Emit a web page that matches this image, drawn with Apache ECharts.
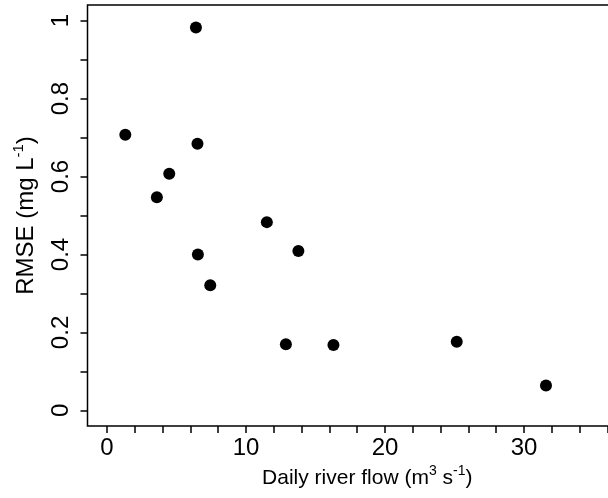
<!DOCTYPE html>
<html>
<head>
<meta charset="utf-8">
<script src="https://cdn.jsdelivr.net/npm/echarts@6/dist/echarts.min.js"></script>
<style>
  html, body { margin: 0; padding: 0; background: #fff; }
  #chart { width: 608px; height: 498px; }
</style>
</head>
<body>
<div id="chart"></div>
<script>
  // values
  var flow = [1.32, 3.59, 4.48, 6.40, 6.51, 6.54, 7.43, 11.50, 12.87, 13.77, 16.29, 25.16, 31.58];
  var rmse = [0.707, 0.547, 0.607, 0.982, 0.684, 0.400, 0.321, 0.483, 0.170, 0.409, 0.168, 0.176, 0.064];

  var xLabels = [0, 10, 20, 30];
  var xTicks = [0, 2, 4, 6, 8, 10, 12, 14, 16, 18, 20, 22, 24, 26, 28, 30, 32, 34, 36];
  var yLabels = [0, 0.2, 0.4, 0.6, 0.8, 1];
  var yTicks = [0, 0.1, 0.2, 0.3, 0.4, 0.5, 0.6, 0.7, 0.8, 0.9, 1];

  var font = 'Liberation Sans, Arial, sans-serif';

  var points = flow.map(function (f, i) { return [f, rmse[i]]; });

  var chart = echarts.init(document.getElementById('chart'));
  chart.setOption({
    backgroundColor: '#ffffff',
    animation: false,
    grid: {
      left: 87.5,
      top: 5,
      width: 525.5,
      height: 421,
      show: true,
      borderColor: '#000',
      borderWidth: 1.5,
      containLabel: false,
      outerBoundsMode: 'none'
    },
    xAxis: {
      type: 'value',
      min: -1.4,
      max: 36.4,
      axisLine: { show: false, onZero: false },
      splitLine: { show: false },
      axisTick: {
        customValues: xTicks,
        length: 7,
        lineStyle: { color: '#000', width: 1.5 }
      },
      axisLabel: {
        customValues: xLabels,
        color: '#000',
        fontFamily: font,
        fontSize: 24,
        margin: 10
      },
      name: 'Daily river flow (m{sup|3} s{sup|-1})',
      nameLocation: 'middle',
      nameGap: 38,
      nameMoveOverlap: false,
      nameTextStyle: {
        color: '#000',
        fontFamily: font,
        fontSize: 21,
        lineHeight: 28,
        padding: [0, 0, 0, 34],
        rich: {
          sup: { fontSize: 14, lineHeight: 14, verticalAlign: 'top', color: '#000', fontFamily: font }
        }
      }
    },
    yAxis: {
      type: 'value',
      min: -0.04,
      max: 1.04,
      axisLine: { show: false, onZero: false },
      splitLine: { show: false },
      axisTick: {
        customValues: yTicks,
        length: 7,
        lineStyle: { color: '#000', width: 1.5 }
      },
      axisLabel: {
        customValues: yLabels,
        rotate: 90,
        color: '#000',
        fontFamily: font,
        fontSize: 24,
        margin: 14
      },
      name: 'RMSE (mg L{sup|-1})',
      nameLocation: 'middle',
      nameRotate: 90,
      nameGap: 46,
      nameMoveOverlap: false,
      nameTextStyle: {
        color: '#000',
        fontFamily: font,
        fontSize: 24,
        lineHeight: 30,
        rich: {
          sup: { fontSize: 15, lineHeight: 15, verticalAlign: 'top', color: '#000', fontFamily: font }
        }
      }
    },
    series: [{
      type: 'scatter',
      data: points,
      symbol: 'circle',
      symbolSize: 12,
      itemStyle: { color: '#000', opacity: 1 }
    }]
  });
</script>
</body>
</html>
